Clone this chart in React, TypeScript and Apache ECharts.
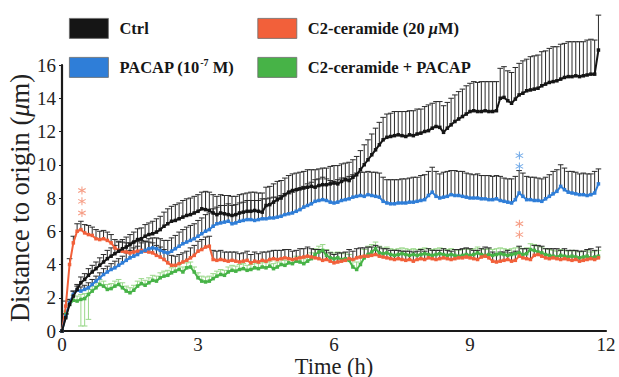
import React, { useEffect, useRef } from "react";
import * as echarts from "echarts";

// sampling step: 5 minutes, expressed in hours
const STEP_H = 5 / 60;

const SERIES_NAMES = ["Ctrl", "C2-ceramide (20 μM)", "PACAP (10-7 M)", "C2-ceramide + PACAP"];
const X_TICKS = [0, 3, 6, 9, 12];

const ctrl = [
  0, 0.8, 1.6, 2.1, 2.5, 2.9, 3.1, 3.35, 3.55, 3.75, 3.95, 4.15,
  4.35, 4.5, 4.65, 4.8, 4.95, 5.05, 5.2, 5.35, 5.5, 5.55, 5.7, 5.8,
  5.85, 5.95, 6.1, 6.3, 6.45, 6.6, 6.65, 6.75, 6.85, 6.95, 7.0, 7.1,
  7.2, 7.35, 7.3, 7.25, 7.1, 7.0, 7.1, 7.05, 7.0, 6.95, 7.0, 7.1,
  7.15, 7.2, 7.2, 7.25, 7.2, 7.15, 7.55, 7.6, 7.75, 7.9, 8.0, 8.2,
  8.35, 8.45, 8.5, 8.55, 8.6, 8.65, 8.7, 8.65, 8.75, 8.8, 8.8, 8.85,
  8.9, 8.85, 9.0, 9.1, 9.05, 9.25, 9.4, 9.7, 10.0, 10.3, 10.6, 10.9,
  11.2, 11.5, 11.65, 11.7, 11.75, 11.8, 11.75, 11.7, 11.8, 11.75, 11.85, 11.9,
  12.0, 12.05, 12.2, 12.3, 12.25, 11.95, 12.2, 12.4, 12.6, 12.75, 12.9, 13.05,
  13.2, 13.25, 13.2, 13.2, 13.25, 13.2, 13.2, 13.25, 14.0, 14.05, 13.85, 13.7,
  13.95, 14.2, 14.3, 14.45, 14.5, 14.55, 14.6, 14.75, 14.85, 14.95, 15.0, 15.05,
  15.15, 15.25, 15.3, 15.3, 15.35, 15.3, 15.35, 15.4, 15.45, 15.45, 16.9,
];
const ctrlErr = [
  0, 0.2, 0.3, 0.3, 0.3, 0.35, 0.35, 0.4, 0.4, 0.4, 0.45, 0.45,
  0.5, 0.5, 0.5, 0.55, 0.55, 0.6, 0.6, 0.6, 0.65, 0.65, 0.7, 0.7,
  0.75, 0.8, 0.8, 0.85, 0.9, 0.9, 0.95, 0.95, 1.0, 1.0, 1.0, 1.0,
  1.0, 1.0, 1.1, 1.1, 1.1, 1.1, 1.1, 1.1, 1.15, 1.15, 1.1, 1.1,
  1.1, 1.1, 1.15, 1.1, 1.1, 1.15, 1.1, 1.1, 1.1, 1.1, 1.05, 1.0,
  1.0, 1.0, 1.0, 1.0, 1.0, 1.05, 1.0, 1.05, 1.0, 1.0, 1.0, 1.05,
  1.05, 1.1, 1.05, 1.0, 1.1, 1.05, 1.1, 1.15, 1.2, 1.2, 1.25, 1.3,
  1.35, 1.35, 1.4, 1.4, 1.45, 1.4, 1.45, 1.5, 1.45, 1.5, 1.5, 1.45,
  1.5, 1.55, 1.5, 1.5, 1.55, 1.6, 1.55, 1.6, 1.6, 1.65, 1.65, 1.7,
  1.7, 1.75, 1.75, 1.8, 1.75, 1.8, 1.8, 1.75, 1.8, 1.85, 1.8, 1.85,
  1.9, 1.9, 1.95, 1.9, 2.0, 2.0, 2.0, 2.05, 2.0, 2.05, 2.1, 2.05,
  2.1, 2.05, 2.1, 2.1, 2.05, 2.1, 2.05, 2.1, 2.1, 2.05, 2.1,
];

const pacap = [
  0, 0.9, 1.7, 2.2, 2.45, 2.4, 2.5, 2.6, 2.8, 3.0, 3.2, 3.4,
  3.55, 3.7, 3.8, 3.95, 4.1, 4.25, 4.4, 4.5, 4.6, 4.75, 4.85, 4.95,
  5.0, 4.95, 4.85, 4.75, 4.7, 4.8, 4.95, 5.1, 5.25, 5.35, 5.45, 5.55,
  5.7, 5.85, 6.0, 6.1, 6.3, 6.45, 6.5, 6.55, 6.6, 6.45, 6.5, 6.6,
  6.65, 6.7, 6.7, 6.65, 6.7, 6.75, 6.75, 6.8, 6.8, 6.85, 6.9, 7.0,
  7.05, 7.1, 7.2, 7.3, 7.45, 7.55, 7.65, 7.8, 7.85, 7.9, 7.85, 7.75,
  7.7, 7.75, 7.85, 7.9, 7.95, 8.05, 8.1, 8.15, 8.1, 8.2, 8.15, 8.1,
  8.05, 7.8, 7.7, 7.65, 7.65, 7.7, 7.7, 7.7, 7.75, 7.75, 7.8, 7.85,
  7.9, 8.15, 8.35, 8.1, 8.0, 8.05, 8.1, 8.2, 8.15, 8.15, 8.1, 8.05,
  8.0, 8.0, 8.0, 7.95, 7.95, 7.9, 7.9, 7.95, 7.85, 7.8, 7.75, 7.7,
  7.9, 8.3, 8.1, 7.9, 7.9, 7.85, 7.85, 7.8, 7.95, 8.1, 8.25, 8.4,
  8.7, 8.5, 8.35, 8.3, 8.25, 8.2, 8.2, 8.15, 8.2, 8.3, 8.85,
];
const pacapErr = [
  0, 0.15, 0.2, 0.2, 0.25, 0.25, 0.25, 0.3, 0.3, 0.3, 0.3, 0.35,
  0.35, 0.35, 0.4, 0.4, 0.4, 0.45, 0.45, 0.5, 0.5, 0.55, 0.55, 0.6,
  0.6, 0.65, 0.7, 0.7, 0.75, 0.8, 0.8, 0.85, 0.85, 0.9, 0.9, 0.9,
  0.95, 0.95, 1.0, 1.0, 1.05, 1.0, 1.05, 1.0, 1.05, 1.1, 1.1, 1.1,
  1.1, 1.15, 1.15, 1.2, 1.15, 1.2, 1.2, 1.2, 1.25, 1.2, 1.25, 1.25,
  1.2, 1.25, 1.25, 1.3, 1.25, 1.3, 1.3, 1.3, 1.3, 1.35, 1.3, 1.3,
  1.3, 1.35, 1.35, 1.3, 1.35, 1.35, 1.4, 1.4, 1.45, 1.4, 1.4, 1.45,
  1.45, 1.45, 1.4, 1.45, 1.45, 1.4, 1.45, 1.45, 1.45, 1.5, 1.45, 1.5,
  1.5, 1.45, 1.5, 1.5, 1.45, 1.5, 1.5, 1.45, 1.5, 1.45, 1.5, 1.45,
  1.45, 1.4, 1.45, 1.4, 1.4, 1.45, 1.4, 1.4, 1.45, 1.4, 1.4, 1.45,
  1.4, 1.35, 1.4, 1.4, 1.35, 1.4, 1.35, 1.35, 1.3, 1.3, 1.35, 1.3,
  1.3, 1.3, 1.25, 1.3, 1.3, 1.25, 1.3, 1.3, 1.25, 1.3, 0.9,
];

const cer = [
  0, 1.5, 4.0, 5.3, 6.0, 6.1, 5.9, 5.8, 5.75, 5.55, 5.5, 5.55,
  5.45, 5.3, 5.0, 4.85, 4.8, 4.75, 4.7, 4.75, 4.8, 4.85, 4.8, 4.75,
  4.7, 4.55, 4.45, 4.3, 4.1, 3.95, 3.95, 4.05, 4.15, 4.25, 4.4, 4.55,
  4.8, 4.9, 5.05, 5.1, 4.3, 4.25, 4.3, 4.25, 4.2, 4.25, 4.2, 4.15,
  4.2, 4.25, 4.1, 4.2, 4.15, 4.25, 4.2, 4.3, 4.35, 4.3, 4.35, 4.4,
  4.35, 4.3, 4.35, 4.4, 4.45, 4.5, 4.45, 4.4, 4.35, 4.25, 4.3, 4.2,
  4.1, 4.15, 4.2, 4.25, 4.35, 4.3, 4.4, 4.45, 4.5, 4.5, 4.55, 4.6,
  4.5, 4.45, 4.4, 4.35, 4.3, 4.35, 4.3, 4.25, 4.3, 4.2, 4.3, 4.35,
  4.3, 4.4, 4.35, 4.3, 4.35, 4.4, 4.35, 4.3, 4.35, 4.4, 4.4, 4.45,
  4.4, 4.35, 4.3, 4.45, 4.5, 4.4, 4.2, 4.15, 4.2, 4.25, 4.3, 4.2,
  4.25, 4.5, 4.4, 4.35, 4.3, 4.55, 4.6, 4.5, 4.4, 4.35, 4.4, 4.35,
  4.3, 4.35, 4.3, 4.25, 4.3, 4.2, 4.25, 4.3, 4.35, 4.3, 4.4,
];
const cerErr = [
  0, 0.3, 0.35, 0.4, 0.45, 0.5, 0.5, 0.55, 0.5, 0.55, 0.5, 0.5,
  0.5, 0.5, 0.5, 0.55, 0.55, 0.55, 0.6, 0.6, 0.6, 0.6, 0.6, 0.6,
  0.6, 0.6, 0.6, 0.6, 0.6, 0.6, 0.55, 0.55, 0.55, 0.55, 0.6, 0.6,
  0.6, 0.6, 0.6, 0.6, 0.55, 0.55, 0.55, 0.5, 0.55, 0.5, 0.55, 0.5,
  0.5, 0.55, 0.5, 0.55, 0.5, 0.5, 0.55, 0.5, 0.5, 0.55, 0.5, 0.5,
  0.55, 0.5, 0.5, 0.55, 0.5, 0.55, 0.5, 0.5, 0.55, 0.5, 0.55, 0.5,
  0.5, 0.55, 0.5, 0.5, 0.55, 0.5, 0.55, 0.55, 0.5, 0.55, 0.5, 0.55,
  0.55, 0.5, 0.55, 0.5, 0.55, 0.5, 0.5, 0.55, 0.5, 0.55, 0.5, 0.55,
  0.5, 0.55, 0.5, 0.55, 0.5, 0.55, 0.5, 0.5, 0.55, 0.5, 0.55, 0.55,
  0.55, 0.5, 0.55, 0.5, 0.55, 0.6, 0.55, 0.5, 0.55, 0.5, 0.55, 0.5,
  0.55, 0.6, 0.55, 0.6, 0.55, 0.6, 0.55, 0.6, 0.55, 0.6, 0.55, 0.6,
  0.55, 0.6, 0.55, 0.6, 0.55, 0.6, 0.55, 0.6, 0.6, 0.55, 0.65,
];

const cerPacap = [
  0, 1.0, 1.6, 1.85, 1.8, 1.9, 1.95, 2.2, 2.4, 2.6, 2.8, 2.7,
  2.5, 2.55, 2.7, 2.8, 2.6, 2.4, 2.3, 2.45, 2.7, 2.85, 2.75, 2.9,
  3.05, 3.0, 3.2, 3.3, 3.35, 3.5, 3.6, 3.7, 3.55, 3.8, 3.85, 3.55,
  3.2, 3.0, 2.95, 3.0, 3.15, 3.3, 3.4, 3.35, 3.55, 3.65, 3.6, 3.7,
  3.75, 3.65, 3.7, 3.8, 3.75, 3.85, 3.8, 3.9, 3.75, 3.85, 4.0, 3.95,
  4.1, 4.05, 4.2, 4.15, 4.05, 4.2, 4.35, 4.6, 4.75, 4.85, 4.55, 4.4,
  4.35, 4.4, 4.3, 4.35, 4.25, 3.85, 3.7, 4.0, 4.4, 4.6, 4.75, 4.95,
  4.7, 4.65, 4.7, 4.6, 4.55, 4.6, 4.65, 4.6, 4.55, 4.6, 4.55, 4.6,
  4.65, 4.6, 4.55, 4.6, 4.65, 4.6, 4.55, 4.6, 4.55, 4.5, 4.55, 4.6,
  4.55, 4.6, 4.7, 4.6, 4.55, 4.6, 4.55, 4.6, 4.65, 4.6, 4.55, 4.6,
  4.65, 4.7, 4.6, 4.65, 4.9, 4.85, 4.75, 4.7, 4.6, 4.55, 4.5, 4.45,
  4.55, 4.5, 4.45, 4.5, 4.45, 4.4, 4.45, 4.5, 4.4, 4.45, 4.5,
];
const cerPacapErr = [
  0, 0.2, 0.25, 0.3, 0.3, 0.3, 0.3, 0.3, 0.3, 0.3, 0.3, 0.3,
  0.3, 0.3, 0.3, 0.3, 0.3, 0.3, 0.3, 0.3, 0.3, 0.3, 0.3, 0.3,
  0.3, 0.3, 0.3, 0.3, 0.3, 0.3, 0.3, 0.3, 0.3, 0.3, 0.3, 0.3,
  0.3, 0.3, 0.3, 0.3, 0.3, 0.3, 0.3, 0.3, 0.3, 0.3, 0.3, 0.3,
  0.3, 0.3, 0.3, 0.3, 0.3, 0.3, 0.3, 0.3, 0.3, 0.3, 0.3, 0.3,
  0.3, 0.3, 0.3, 0.3, 0.3, 0.3, 0.35, 0.35, 0.35, 0.35, 0.35, 0.35,
  0.35, 0.35, 0.35, 0.35, 0.35, 0.4, 0.45, 0.5, 0.5, 0.5, 0.45, 0.4,
  0.4, 0.35, 0.35, 0.35, 0.35, 0.35, 0.35, 0.35, 0.35, 0.35, 0.35, 0.35,
  0.35, 0.35, 0.35, 0.35, 0.35, 0.35, 0.35, 0.35, 0.35, 0.35, 0.35, 0.35,
  0.35, 0.35, 0.35, 0.35, 0.35, 0.35, 0.35, 0.35, 0.35, 0.35, 0.35, 0.35,
  0.35, 0.35, 0.35, 0.35, 0.35, 0.35, 0.35, 0.35, 0.35, 0.35, 0.35, 0.35,
  0.35, 0.35, 0.35, 0.35, 0.35, 0.35, 0.35, 0.35, 0.35, 0.35, 0.35,
];
// downward error bars of the C2-ceramide + PACAP group (first samples only)
const cerPacapLowErr = [0, 0, 0, 0, 0, 1.6, 1.65, 1.5];

// significance asterisks [time (h), height]
const cerStars = [[0.44, 7.1], [0.44, 7.8], [0.44, 8.45], [10.09, 5.8], [10.09, 6.45]];
const pacapStars = [[10.09, 9.9], [10.09, 10.55]];

const FONT = "Liberation Serif";
const COLORS = { ctrl: "#151515", cer: "#f2603a", pacap: "#2f7ed8", cerPacap: "#47b347" };

const ASTERISK =
  "path://M-0.6,-5L0.6,-5L0.6,5L-0.6,5Z M4.03,-3.02L4.63,-1.98L-4.03,3.02L-4.63,1.98Z M-4.63,-1.98L-4.03,-3.02L4.63,1.98L4.03,3.02Z";

const toPairs = (vals: number[]) => vals.map((v, i) => [i * STEP_H, v]);
const toErr = (vals: number[], errs: number[]) => vals.map((v, i) => [i * STEP_H, v, errs[i] || 0]);

function errRender(color: string, dir: number, hw: number) {
  return (params: any, api: any) => {
    const x = api.value(0);
    const y = api.value(1);
    const e = api.value(2);
    if (!e) return null;
    const p0 = api.coord([x, y]);
    const p1 = api.coord([x, y + dir * e]);
    return {
      type: "group",
      children: [
        { type: "line", shape: { x1: p0[0], y1: p0[1], x2: p1[0], y2: p1[1] }, style: { stroke: color, lineWidth: 1 } },
        { type: "line", shape: { x1: p1[0] - hw, y1: p1[1], x2: p1[0] + hw, y2: p1[1] }, style: { stroke: color, lineWidth: 1 } },
      ],
    };
  };
}

export default function App() {
  const ref = useRef<HTMLDivElement>(null);
  useEffect(() => {
    if (!ref.current) return;
    const chart = echarts.init(ref.current, undefined, { renderer: "svg" });
    const legendText = {
      fontFamily: FONT,
      fontWeight: "bold",
      fontSize: 16.5,
      color: "#161616",
      width: 128,
      padding: [0, 0, 0, 6],
      lineHeight: 20,
      rich: {
        i: { fontFamily: FONT, fontWeight: "bold", fontStyle: "italic", fontSize: 16.5, color: "#161616" },
        sup: { fontFamily: FONT, fontWeight: "bold", fontSize: 10, color: "#161616", verticalAlign: "top", lineHeight: 20 },
      },
    };
    const legendFormatter = (name: string) => {
      if (name === SERIES_NAMES[1]) return "C2-ceramide (20 {i|μ}M)";
      if (name === SERIES_NAMES[2]) return "PACAP (10{sup|-7} M)";
      return name;
    };
    const legendBase = {
      icon: "rect",
      itemWidth: 39,
      itemHeight: 20,
      itemGap: 10,
      left: 69,
      padding: 0,
      selectedMode: false,
      itemStyle: { borderColor: "#6a6a6a", borderWidth: 0.8 },
      textStyle: legendText,
      formatter: legendFormatter,
    };
    const lineSeries = (name: string, vals: number[], color: string, z: number) => ({
      name,
      type: "line",
      data: toPairs(vals),
      color,
      symbol: "rect",
      symbolSize: 3.5,
      showSymbol: true,
      clip: false,
      z,
      lineStyle: { width: 2, color },
      itemStyle: { color },
    });
    const errSeries = (vals: number[], errs: number[], color: string, dir: number, z: number) => ({
      type: "custom",
      data: toErr(vals, errs),
      encode: { x: 0, y: 1 },
      clip: false,
      silent: true,
      z,
      renderItem: errRender(color, dir, 2.8),
    });
    chart.setOption({
      animation: false,
      backgroundColor: "#ffffff",
      grid: { left: 62, right: 13, top: 65, bottom: 46, containLabel: false, outerBoundsMode: "none" },
      legend: [
        { ...legendBase, top: 18, data: [SERIES_NAMES[0], SERIES_NAMES[1]] },
        { ...legendBase, top: 57, data: [SERIES_NAMES[2], SERIES_NAMES[3]] },
      ],
      xAxis: {
        type: "value",
        min: X_TICKS[0],
        max: X_TICKS[X_TICKS.length - 1],
        interval: 3,
        splitLine: { show: false },
        axisTick: { show: false },
        axisLine: { lineStyle: { color: "#1a1a1a", width: 2.2 } },
        axisLabel: { fontFamily: FONT, fontSize: 19, lineHeight: 19, color: "#222", margin: 4 },
        name: "Time (h)",
        nameLocation: "middle",
        nameGap: 24,
        nameMoveOverlap: false,
        nameTextStyle: { fontFamily: FONT, fontSize: 22.5, lineHeight: 22, color: "#222" },
      },
      yAxis: {
        type: "value",
        min: 0,
        max: 16,
        interval: 2,
        splitLine: { show: false },
        axisTick: { show: true, length: 3, lineStyle: { color: "#1a1a1a", width: 1 } },
        axisLine: { lineStyle: { color: "#1a1a1a", width: 2.2 } },
        axisLabel: { fontFamily: FONT, fontSize: 19, color: "#222", margin: 6 },
        name: "Distance to origin ({i|μ}m)",
        nameLocation: "middle",
        nameGap: 29,
        nameMoveOverlap: false,
        nameTextStyle: {
          fontFamily: FONT,
          fontSize: 26.5,
          color: "#222",
          rich: { i: { fontFamily: FONT, fontSize: 26.5, fontStyle: "italic", color: "#222" } },
        },
      },
      series: [
        errSeries(cerPacap, cerPacapErr, "#9ad88a", 1, 1),
        errSeries(cerPacap, cerPacapLowErr, "#9ad88a", -1, 1),
        errSeries(cer, cerErr, "#2a2a2a", 1, 2),
        errSeries(pacap, pacapErr, "#2a2a2a", 1, 2),
        errSeries(ctrl, ctrlErr, "#2a2a2a", 1, 2),
        lineSeries(SERIES_NAMES[3], cerPacap, COLORS.cerPacap, 4),
        lineSeries(SERIES_NAMES[1], cer, COLORS.cer, 4),
        lineSeries(SERIES_NAMES[2], pacap, COLORS.pacap, 4),
        lineSeries(SERIES_NAMES[0], ctrl, COLORS.ctrl, 5),
        {
          type: "scatter",
          data: cerStars,
          symbol: ASTERISK,
          symbolSize: 8,
          itemStyle: { color: "#f48466" },
          z: 6,
        },
        {
          type: "scatter",
          data: pacapStars,
          symbol: ASTERISK,
          symbolSize: 8,
          itemStyle: { color: "#4f95e2" },
          z: 6,
        },
      ],
    });
    return () => chart.dispose();
  }, []);
  return <div ref={ref} style={{ position: "fixed", left: 0, top: 0, width: 619, height: 377 }} />;
}
